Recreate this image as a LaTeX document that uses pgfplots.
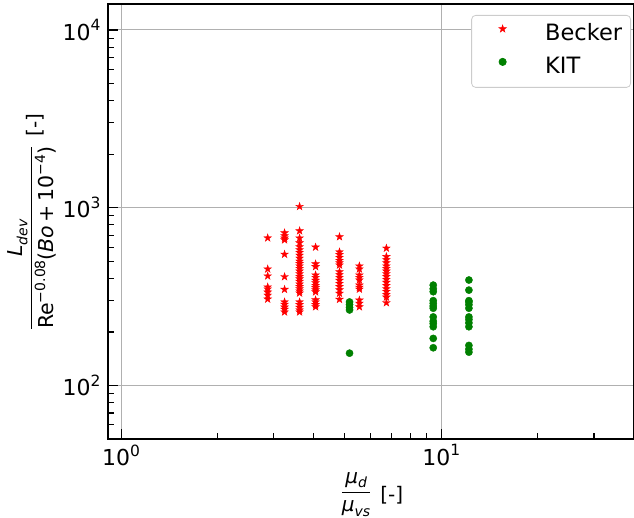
\documentclass[border=0pt]{standalone}
\usepackage{amsmath}
\usepackage{fontspec}
\setmainfont{DejaVu Sans}
\usepackage{pgfplots}
\pgfplotsset{compat=1.18}
\definecolor{mplred}{RGB}{255,0,0}
\definecolor{mplgreen}{RGB}{0,128,0}
\definecolor{gridgray}{RGB}{176,176,176}
\definecolor{legedge}{RGB}{204,204,204}
\newcommand\tl[1]{10\raisebox{0.42em}{\fontsize{15.5}{15.5}\selectfont #1}}
\newcommand\sups[1]{\raisebox{0.42em}{\fontsize{14}{14}\selectfont #1}}
\newcommand\subs[1]{\raisebox{-0.22em}{\fontsize{14}{14}\selectfont #1}}
\pgfdeclareplotmark{fstar}{%
  \pgfpathmoveto{\pgfpointpolar{90}{\pgfplotmarksize}}%
  \pgfpathlineto{\pgfpointpolar{126}{0.382*\pgfplotmarksize}}%
  \pgfpathlineto{\pgfpointpolar{162}{\pgfplotmarksize}}%
  \pgfpathlineto{\pgfpointpolar{198}{0.382*\pgfplotmarksize}}%
  \pgfpathlineto{\pgfpointpolar{234}{\pgfplotmarksize}}%
  \pgfpathlineto{\pgfpointpolar{270}{0.382*\pgfplotmarksize}}%
  \pgfpathlineto{\pgfpointpolar{306}{\pgfplotmarksize}}%
  \pgfpathlineto{\pgfpointpolar{342}{0.382*\pgfplotmarksize}}%
  \pgfpathlineto{\pgfpointpolar{18}{\pgfplotmarksize}}%
  \pgfpathlineto{\pgfpointpolar{54}{0.382*\pgfplotmarksize}}%
  \pgfpathclose
  \pgfusepathqfillstroke}
\begin{document}
\begin{tikzpicture}
\useasboundingbox (0pt,0pt) rectangle (634pt,518pt);
\begin{axis}[
  at={(108pt,79pt)}, anchor=south west,
  scale only axis, width=526pt, height=435pt,
  xmode=log, ymode=log,
  xmin=0.91, xmax=40, ymin=50, ymax=14000,
  axis line style={black, line width=1.1pt},
  xtick={1,10}, xticklabels={\tl{0},\tl{1}},
  ytick={100,1000,10000}, yticklabels={\tl{2},\tl{3},\tl{4}},
  minor xtick={2,3,4,5,6,7,8,9,20,30,40},
  minor ytick={60,70,80,90,200,300,400,500,600,700,800,900,2000,3000,4000,5000,6000,7000,8000,9000},
  tick align=inside, xtick pos=bottom, ytick pos=left,
  major tick length=10pt, minor tick length=6pt,
  every tick/.style={black, line width=1.1pt},
  grid=major, major grid style={gridgray, line width=1pt},
  ticklabel style={font=\fontsize{22}{22}\selectfont},
  xticklabel style={yshift=-2pt},
  yticklabel style={xshift=-4pt},
  legend style={at={(1,1)}, anchor=north east, xshift=-3pt, yshift=-11pt,
    draw=legedge, rounded corners=4pt, fill=white, line width=0.8pt,
    inner xsep=8.5pt, inner ysep=6pt, row sep=6pt,
    font=\fontsize{22.5}{22.5}\selectfont,
    nodes={inner xsep=0pt, inner ysep=3pt, text height=16pt, text depth=5pt}},
  legend cell align=left,
  legend image code/.code={\path[draw=none,fill=none] (0pt,0pt) rectangle (65pt,1pt); \draw[#1] plot coordinates {(22.5pt,6pt)};},
]
\addplot[only marks, mark=fstar, mark size=4pt, mplred, mark options={line width=0.4pt}] coordinates {
(2.87,676) (2.87,452) (2.87,413) (2.87,358) (2.87,349) (2.87,335) (2.87,322) (2.87,306)
(3.24,722) (3.24,695) (3.24,675) (3.24,659) (3.24,547) (3.24,409) (3.24,347) (3.24,295) (3.24,286) (3.24,276) (3.24,268) (3.24,259)
(3.61,1016) (3.61,741) (3.61,675) (3.61,634) (3.61,603) (3.61,580) (3.61,560) (3.61,540) (3.61,520) (3.61,500) (3.61,485) (3.61,470) (3.61,455) (3.61,440) (3.61,425) (3.61,410) (3.61,398) (3.61,385) (3.61,372) (3.61,360) (3.61,350) (3.61,340) (3.61,331) (3.61,295) (3.61,285) (3.61,275) (3.61,266) (3.61,259)
(4.05,600) (4.05,483) (4.05,466) (4.05,418) (4.05,405) (4.05,390) (4.05,378) (4.05,365) (4.05,355) (4.05,345) (4.05,336) (4.05,303) (4.05,295) (4.05,285) (4.05,277)
(4.81,686) (4.81,564) (4.81,545) (4.81,525) (4.81,505) (4.81,490) (4.81,476) (4.81,436) (4.81,420) (4.81,405) (4.81,390) (4.81,375) (4.81,360) (4.81,345) (4.81,330) (4.81,305)
(5.55,470) (5.55,452) (5.55,418) (5.55,405) (5.55,392) (5.55,367) (5.55,357) (5.55,348) (5.55,302) (5.55,290) (5.55,277)
(6.74,592) (6.74,531) (6.74,510) (6.74,490) (6.74,470) (6.74,455) (6.74,440) (6.74,425) (6.74,410) (6.74,395) (6.74,380) (6.74,365) (6.74,350) (6.74,338) (6.74,325) (6.74,314) (6.74,292)
};
\addlegendentry{Becker}
\addplot[only marks, mark=*, mark size=3.6pt, mplgreen] coordinates {
(5.17,295) (5.17,285) (5.17,275) (5.17,266) (5.17,152)
(9.44,367) (9.44,350) (9.44,337) (9.44,300) (9.44,290) (9.44,280) (9.44,272) (9.44,243) (9.44,230) (9.44,223) (9.44,214) (9.44,184) (9.44,163)
(12.2,392) (12.2,344) (12.2,300) (12.2,295) (12.2,285) (12.2,272) (12.2,243) (12.2,235) (12.2,225) (12.2,214) (12.2,168) (12.2,160) (12.2,154)
};
\addlegendentry{KIT}
\end{axis}
\node[rotate=90, anchor=base, inner sep=0pt] at (37pt,296pt) {\fontsize{20.5}{20.5}\selectfont $\dfrac{\text{\itshape L\subs{dev}}}{\text{Re\sups{−0.08}(\itshape Bo\upshape\,+\,10\sups{−4})}}$\hspace{9pt}\raisebox{-4pt}{\fontsize{20}{20}\selectfont [-]}};
\node[anchor=base, inner sep=0pt] at (372pt,20.5pt) {\fontsize{20}{20}\selectfont $\dfrac{\text{\itshape μ\subs{d}}}{\text{\itshape μ\subs{vs}}}$\hspace{9pt}\raisebox{-4pt}{\fontsize{20}{20}\selectfont [-]}};
\end{tikzpicture}
\end{document}
